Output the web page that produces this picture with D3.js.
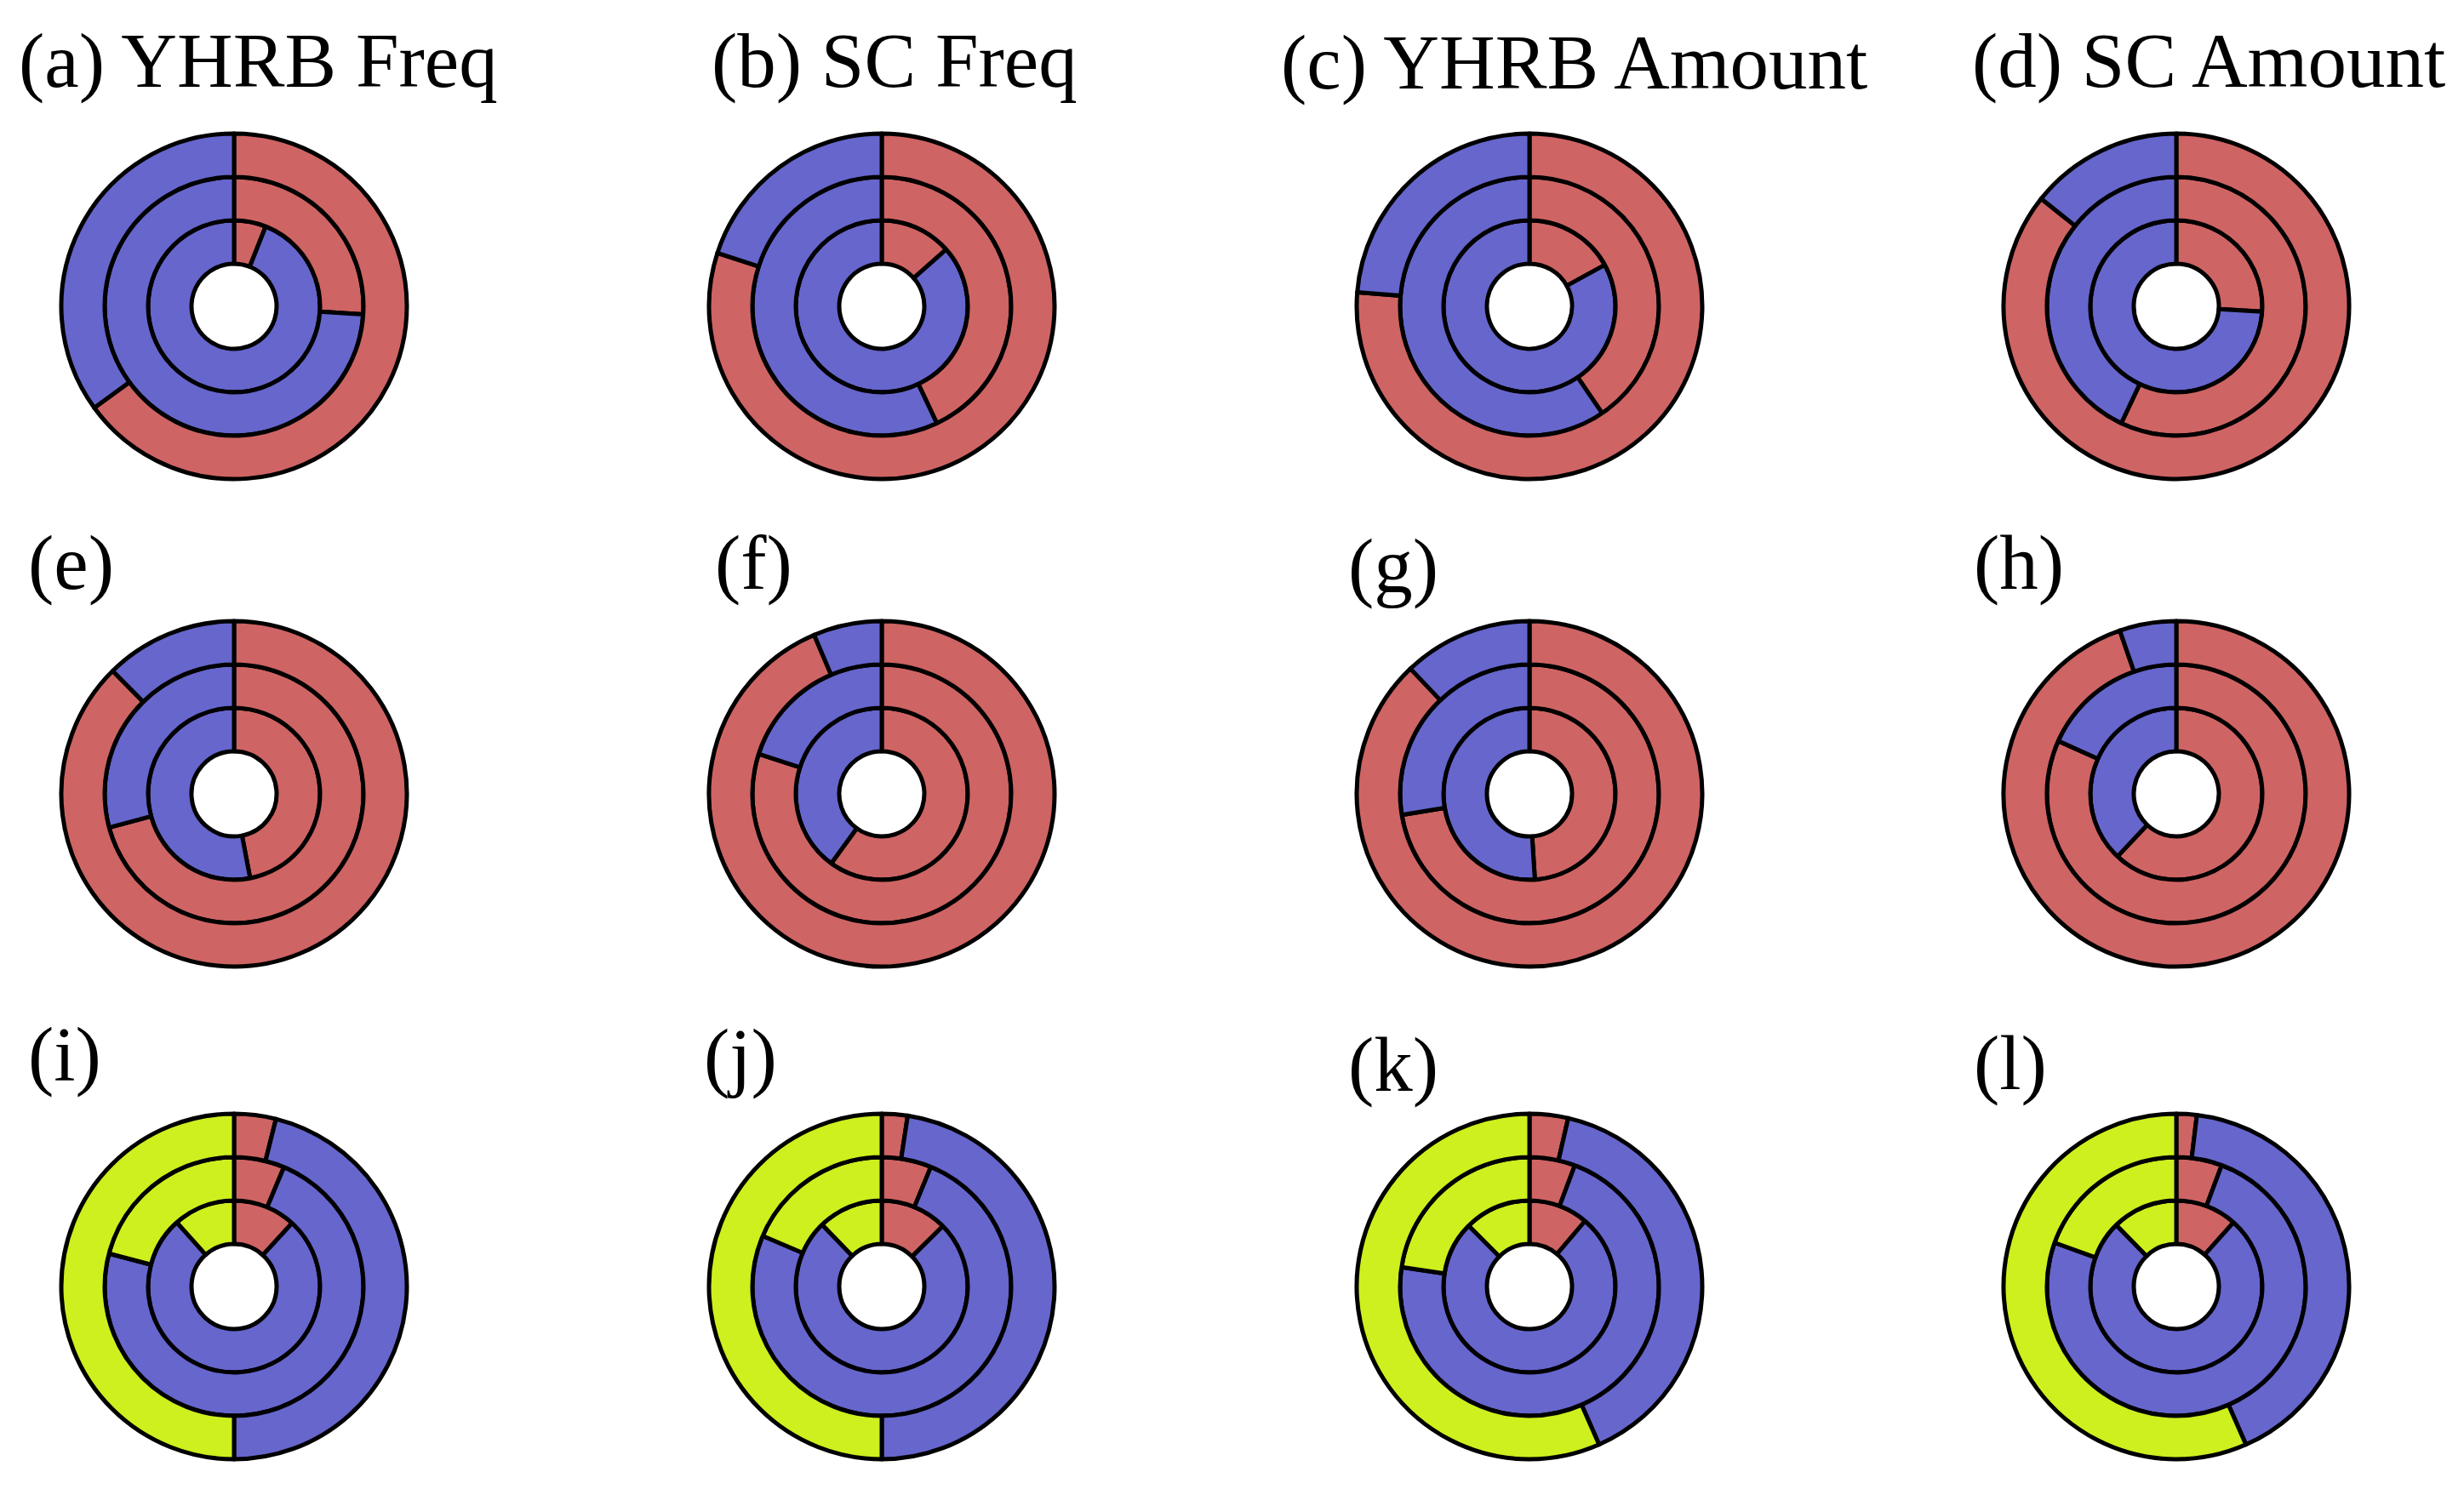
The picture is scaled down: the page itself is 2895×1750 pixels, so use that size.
<!DOCTYPE html>
<html>
<head>
<meta charset="utf-8">
<script src="https://cdn.jsdelivr.net/npm/d3@7"></script>
<style>
  html, body { margin: 0; padding: 0; background: #ffffff; }
  svg { display: block; }
</style>
</head>
<body>
<svg id="chart" width="2895" height="1750"></svg>
<script>
// ---------- DATA ----------
const panelLabels = ['(a) YHRB Freq', '(b) SC Freq', '(c) YHRB Amount', '(d) SC Amount',
                     '(e)', '(f)', '(g)', '(h)',
                     '(i)', '(j)', '(k)', '(l)'];
const categories = ['class1', 'class2', 'class3'];
const ringNames = ['inner', 'middle', 'outer'];

// shares (%) per panel, clockwise from 12 o'clock, in category order
const innerRing = [
  [6, 94], [13.5, 86.5], [17, 83], [26, 74],
  [47, 53], [60, 40], [49, 51], [62, 38],
  [11.8, 76.6, 11.6], [12.6, 75.2, 12.2], [11.2, 76.3, 12.5], [11.6, 76.1, 12.3]
];
const middleRing = [
  [26, 74], [43, 57], [40.5, 59.5], [57, 43],
  [70.8, 29.2], [80, 20], [72.4, 27.6], [81.7, 18.3],
  [6.3, 72.8, 20.9], [6.2, 75.2, 18.6], [5.7, 71.7, 22.6], [5.7, 74.8, 19.5]
];
const outerRing = [
  [65, 35], [80, 20], [76.3, 23.7], [85.7, 14.3],
  [87.6, 12.4], [93.6, 6.4], [87.9, 12.1], [94.7, 5.3],
  [3.9, 46.1, 50], [2.4, 47.6, 50], [3.6, 39.8, 56.6], [1.9, 41.5, 56.6]
];

// ---------- LAYOUT / STYLE ----------
const colors = d3.scaleOrdinal().domain(categories).range(['#cf6464', '#6666cd', '#cdf01e']);
const colX = [275, 1036, 1797, 2557];
const rowY = [360, 933, 1512];
const labelX = [[22, 836, 1505, 2317], [33, 840, 1584, 2319], [33, 827, 1584, 2319]];
const labelY = [[102, 102, 104, 102], [692, 692, 696, 692], [1270, 1272, 1282, 1280]];
const radii = [50, 101, 152, 203];

const svg = d3.select('#chart');
const pie = d3.pie().sort(null).value(d => d.v);
const arc = d3.arc();

for (let p = 0; p < panelLabels.length; p++) {
  const r = Math.floor(p / 4), c = p % 4;
  const g = svg.append('g').attr('transform', `translate(${colX[c]},${rowY[r]})`);
  const rings = [innerRing[p], middleRing[p], outerRing[p]];
  rings.forEach((vals, ri) => {
    const data = vals.map((v, i) => ({ v, cat: categories[i] }));
    const arcs = pie(data);
    g.append('g').attr('class', ringNames[ri])
      .selectAll('path').data(arcs).join('path')
      .attr('d', d => arc({ ...d, innerRadius: radii[ri], outerRadius: radii[ri + 1] }))
      .attr('fill', d => colors(d.data.cat))
      .attr('stroke', '#000')
      .attr('stroke-width', 5)
      .attr('stroke-linejoin', 'round');
  });
  svg.append('text')
    .attr('x', labelX[r][c])
    .attr('y', labelY[r][c])
    .attr('font-family', '"Liberation Serif", "Times New Roman", serif')
    .attr('font-size', 91)
    .attr('fill', '#000')
    .text(panelLabels[p]);
}
</script>
</body>
</html>
